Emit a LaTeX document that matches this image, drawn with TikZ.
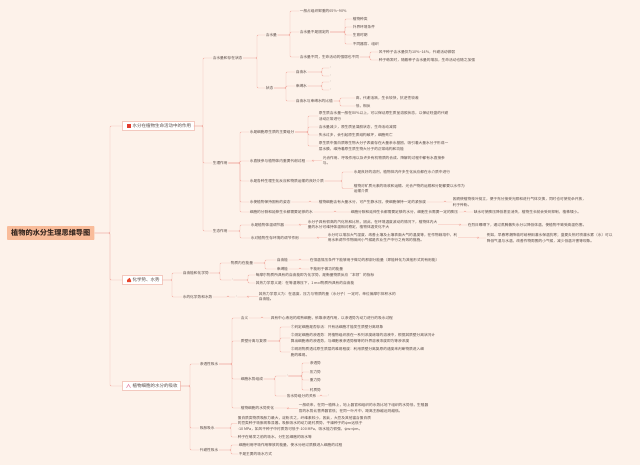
\documentclass[tikz,border=0pt]{standalone}
\usepackage{fontspec}
\setmainfont{Noto Sans CJK SC}
\usetikzlibrary{calc}
\definecolor{bg}{HTML}{FDF2EA}
\definecolor{con}{HTML}{F2ADA3}
\definecolor{boxline}{HTML}{F3C9BF}
\definecolor{rootfill}{HTML}{F9BC9A}
\definecolor{roottxt}{HTML}{3B2A22}
\definecolor{txt}{HTML}{584A46}
\definecolor{iconred}{HTML}{E23C2E}
\definecolor{firered}{HTML}{E8452C}
\definecolor{iconpink}{HTML}{E07BA0}
\newcommand\fs{\fontsize{3.7}{5.6}\selectfont}
\newcommand\cn[3]{\coordinate (spx) at (#3,0); \draw[con] (#1.east) -- (#1.east -| spx) |- (#2.west);}
\tikzset{
  t/.style={anchor=west, inner sep=0.6pt, font=\fs, text=txt, align=left},
  tk/.style={anchor=west, inner sep=0.6pt, font=\fontsize{3}{3}\selectfont, text=txt},
  lone/.style={draw=boxline, fill=white, line width=0.4pt, anchor=west, inner xsep=2.5pt, inner ysep=1pt, minimum height=9pt, font=\fontsize{4.5}{5}\selectfont, text=txt},
  rootbox/.style={fill=rootfill, anchor=west, minimum height=12pt, inner xsep=4pt, font=\fontsize{7.2}{8}\selectfont\bfseries, text=roottxt, rounded corners=0.5pt},
  con/.style={draw=con, line width=0.45pt, rounded corners=1pt}
}
\begin{document}
\begin{tikzpicture}[x=1pt,y=-1pt]
\fill[bg] (0,0) rectangle (640,465);
\useasboundingbox (0,0) rectangle (640,465);

% root and level 1
\node[rootbox] (r) at (7,233) {植物的水分生理思维导图};
\node[lone] (b1) at (122,126) {\hspace{8pt}水分在植物生命活动中的作用};
\node[lone] (b2) at (122,280) {\hspace{8pt}化学势、水势};
\node[lone] (b3) at (122,386) {\hspace{8pt}植物细胞的水分的吸收};
\fill[iconred] ($(b1.west)+(5,-2)$) rectangle ++(4,4);
\fill[firered, rounded corners=0.4pt] ($(b2.west)+(5,2.2)$) -- ++(4,0) -- ++(0,-1.8) -- ++(-1.6,-3) -- ++(-0.3,1.6) -- ++(-0.6,-0.8) -- ++(-1.5,2.2) -- cycle;
\draw[iconpink, line width=0.5pt] ($(b3.west)+(4.5,1.8)$) -- ++(2,-3.4) -- ++(2,3.4);

% ===== branch 1 =====
\node[t] (n11) at (212,58) {含水量和存在状态};
\node[t] (n12) at (212,163) {生理作用};
\node[t] (n13) at (212,231) {生态作用};
\node[t] (n111) at (265,35) {含水量};
\node[t] (n112) at (265,88) {状态};
\node[t] (a1) at (299,11) {一般占组织鲜重的65\%\textasciitilde90\%};
\node[t] (a2) at (299,32) {含水量不是固定的};
\node[t] (a3) at (299,57) {含水量不同，生命活动的强弱也不同};
\node[t] (a21) at (352,19) {植物种类};
\node[t] (a22) at (352,27) {外界环境条件};
\node[t] (a23) at (352,35) {生育时期};
\node[t] (a24) at (352,44) {不同器官、组织};
\node[t] (a31) at (378,52) {风干种子含水量仅为10\%\textasciitilde14\%，代谢活动微弱};
\node[t] (a32) at (378,60) {种子萌发时，随着种子含水量的增加，生命活动也随之加强};
\node[t] (s1) at (295,72) {自由水};
\node[t] (s2) at (295,86) {束缚水};
\node[t] (s3) at (295,101) {自由水与束缚水的比值};
\node[tk] (s11) at (329,68) {,};
\node[tk] (s12) at (329,76) {,};
\node[tk] (s21) at (329,82) {,};
\node[tk] (s22) at (329,90) {,};
\node[t] (s31) at (355,98) {高，代谢活跃，生长较快，抗逆性较差};
\node[t] (s32) at (355,106) {低，相反};

\node[t] (p1) at (249,132) {水是细胞原生质的主要组分};
\node[t] (p2) at (249,161) {水直接参与植物体内重要代谢过程};
\node[t] (p3) at (249,181) {水是各种生理生化反应和物质运输的良好介质};
\node[t] (p4) at (249,202) {水使植物保持固有的姿态};
\node[t] (p5) at (249,212) {细胞的分裂和延伸生长都需要足够的水};
\node[t] (q1) at (318,116) {原生质含水量一般在80\%以上，可以保证原生质呈溶胶状态，以保证旺盛的代谢\\活动正常进行};
\node[t] (q2) at (318,127) {含水量减少，原生质呈凝胶状态，生命活动减弱};
\node[t] (q3) at (318,135) {失水过多，会引起原生质结构破坏，细胞死亡};
\node[t] (q4) at (318,146) {原生质中蛋白质等生物大分子表面存在大量亲水基团，吸引着大量水分子形成一\\层水膜，维持着原生质生物大分子的正常结构和功能};
\node[t] (p21) at (322,160.5) {光合作用、呼吸作用以及许多有机物质的合成、降解的过程中都有水直接参\\与。};
\node[t] (p31) at (353,172) {水是良好的溶剂，植物体内许多生化反应都在水介质中进行};
\node[t] (p32) at (353,188.5) {植物对矿质元素的吸收和运输、光合产物的运输和分配都要以水作为\\运输介质};
\node[t] (p41) at (318,202) {植物细胞含有大量水分，可产生静水压，使细胞保持一定的紧张度};
\node[t] (p42) at (452,202) {因而使植物枝叶挺立，便于充分接受光照和进行气体交换，同时也可使花朵开放，\\利于传粉。};
\node[t] (p51) at (350,212) {细胞分裂和延伸生长都需要足够的水分，细胞生长需要一定的膨压};
\node[t] (p52) at (473,212) {缺水可使膨压降低甚至消失，植物生长就会受到抑制，植株矮小。};

\node[t] (e1) at (250,225) {水是植物体温调节器};
\node[t] (e2) at (250,238) {水对植物生存环境的调节作用};
\node[t] (e11) at (307,224.5) {水分子具有很高的汽化热和比热，因此，在环境温度波动的情况下，植物体内大\\量的水分可维持体温相对稳定，植物体温变化不大};
\node[t] (e12) at (467,225) {在烈日曝晒下，通过蒸腾散失水分以降低体温，使植物不致受高温伤害。};
\node[t] (e21) at (327,237.5) {水分可以增加大气湿度、改善土壤及土壤表面大气的温度等，在作物栽培中，利\\用水来调节作物田间小气候是农业生产中行之有效的措施。};
\node[t] (e22) at (486,238) {例如，早春寒潮降临时给秧田灌水保温抗寒；盛夏炎热时喷灌水雾（水）可以\\降低气温与水温，改善作物周围的小气候，减少低温冷害等现象。};

% ===== branch 2 =====
\node[t] (c1) at (182,273) {自由能和化学势};
\node[t] (c2) at (182,297) {水的化学势和水势};
\node[t] (d1) at (230,263) {物质内在能量};
\node[tk] (d2) at (231,280) {,};
\node[t] (d11) at (276,260) {自由能};
\node[t] (d12) at (276,269) {束缚能};
\node[t] (d111) at (309,260) {在恒温恒压条件下能够用于做功的那部分能量（即能转化为其他形式的有用能）};
\node[t] (d121) at (309,269) {不能用于做功的能量};
\node[t] (d21) at (255,275) {每摩尔物质所具有的自由能即为化学势，是衡量物质反应“本领”的指标};
\node[t] (d22) at (255,283) {其热力学意义是：在等温等压下，1 mol物质所具有的自由能};
\node[tk] (g0) at (235,297) {,};
\node[t] (g1) at (258,296.5) {其热力学意义为：在温度、压力与物质的量（水分子）一定时，单位偏摩尔体积水的\\自由能。};

% ===== branch 3 =====
\node[t] (h1) at (199,364) {渗透性吸水};
\node[t] (h2) at (199,428) {吸胀吸水};
\node[t] (h3) at (199,450) {代谢性吸水};
\node[t] (i1) at (240,318) {含义};
\node[t] (i2) at (240,341) {质壁分离与复原};
\node[t] (i3) at (240,379) {细胞水势组成};
\node[t] (i4) at (240,408) {植物细胞的水势变化};
\node[t] (i11) at (270,318) {具有中心液泡的成熟细胞，依靠渗透作用，以渗透势为动力进行的吸水过程};
\node[t] (j1) at (290,327) {①判定细胞是否存活：只有活细胞才能发生质壁分离现象};
\node[t] (j2) at (290,338) {②测定细胞的渗透势：将植物组织放在一系列浓度递增的溶液中，根据其质壁分离状况计\\算出细胞液的渗透势，与细胞液渗透势相等的外界溶液浓度即为等渗浓度};
\node[t] (j3) at (290,352) {③观测物质透过原生质层的难易程度：利用质壁分离复原的速度来判断物质进入细\\胞的难易。};
\node[tk] (k0) at (286,376) {,};
\node[t] (k1) at (286,396) {各水势组分的关系};
\node[tk] (k11) at (327,396) {,};
\node[t] (k01) at (309,363) {渗透势};
\node[t] (k02) at (309,372) {压力势};
\node[t] (k03) at (309,380) {重力势};
\node[t] (k04) at (309,390) {衬质势};
\node[t] (i41) at (298,408.5) {一般说来，在同一植株上，地上器官和组织的水势比地下组织的水势低，生殖器\\官的水势比营养器官低；在同一叶片中，距离主脉越远则越低。};
\node[t] (m1) at (237,423.5) {蛋白质类物质吸胀力最大，淀粉次之，纤维素较小，因此，大豆及其他富含蛋白质\\的豆类种子吸胀现象显著。吸胀吸水的动力是衬质势，干燥种子的ψm远低于\\-10 MPa，如风干种子中衬质势可低于-100 MPa，吸水能力很强，ψw=ψm。};
\node[t] (m2) at (237,437) {种子在萌发之前的吸水，分生区细胞的吸水等};
\node[t] (o1) at (238,445) {细胞利用呼吸作用释放的能量，使水分经过质膜进入细胞的过程};
\node[t] (o2) at (238,454) {不是主要的吸水方式};

% ===== connectors =====
\cn{r}{b1}{110} \cn{r}{b2}{110} \cn{r}{b3}{110}
\cn{b1}{n11}{203} \cn{b1}{n12}{203} \cn{b1}{n13}{203}
\cn{n11}{n111}{257} \cn{n11}{n112}{257}
\cn{n111}{a1}{290} \cn{n111}{a2}{290} \cn{n111}{a3}{290}
\cn{a2}{a21}{345} \cn{a2}{a22}{345} \cn{a2}{a23}{345} \cn{a2}{a24}{345}
\cn{a3}{a31}{370} \cn{a3}{a32}{370}
\cn{n112}{s1}{286} \cn{n112}{s2}{286} \cn{n112}{s3}{286}
\cn{s1}{s11}{322} \cn{s1}{s12}{322}
\cn{s2}{s21}{322} \cn{s2}{s22}{322}
\cn{s3}{s31}{340} \cn{s3}{s32}{340}
\cn{n12}{p1}{240} \cn{n12}{p2}{240} \cn{n12}{p3}{240} \cn{n12}{p4}{240} \cn{n12}{p5}{240}
\cn{p1}{q1}{308} \cn{p1}{q2}{308} \cn{p1}{q3}{308} \cn{p1}{q4}{308}
\cn{p2}{p21}{313}
\cn{p3}{p31}{342} \cn{p3}{p32}{342}
\cn{p4}{p41}{310}
\cn{p41}{p42}{445}
\cn{p5}{p51}{335}
\cn{p51}{p52}{465}
\cn{n13}{e1}{240} \cn{n13}{e2}{240}
\cn{e1}{e11}{300}
\cn{e11}{e12}{460}
\cn{e2}{e21}{318}
\cn{e21}{e22}{478}
\cn{b2}{c1}{172} \cn{b2}{c2}{172}
\cn{c1}{d1}{220} \cn{c1}{d2}{220}
\cn{d1}{d11}{265} \cn{d1}{d12}{265}
\cn{d11}{d111}{300}
\cn{d12}{d121}{300}
\cn{d2}{d21}{248} \cn{d2}{d22}{248}
\cn{c2}{g0}{228}
\cn{g0}{g1}{248}
\cn{b3}{h1}{190} \cn{b3}{h2}{190} \cn{b3}{h3}{190}
\cn{h1}{i1}{232} \cn{h1}{i2}{232} \cn{h1}{i3}{232} \cn{h1}{i4}{232}
\cn{i1}{i11}{262}
\cn{i2}{j1}{280} \cn{i2}{j2}{280} \cn{i2}{j3}{280}
\cn{i3}{k0}{275} \cn{i3}{k1}{275}
\cn{k0}{k01}{302} \cn{k0}{k02}{302} \cn{k0}{k03}{302} \cn{k0}{k04}{302}
\cn{k1}{k11}{321}
\cn{i4}{i41}{288}
\cn{h2}{m1}{231} \cn{h2}{m2}{231}
\cn{h3}{o1}{231} \cn{h3}{o2}{231}
\end{tikzpicture}
\end{document}
